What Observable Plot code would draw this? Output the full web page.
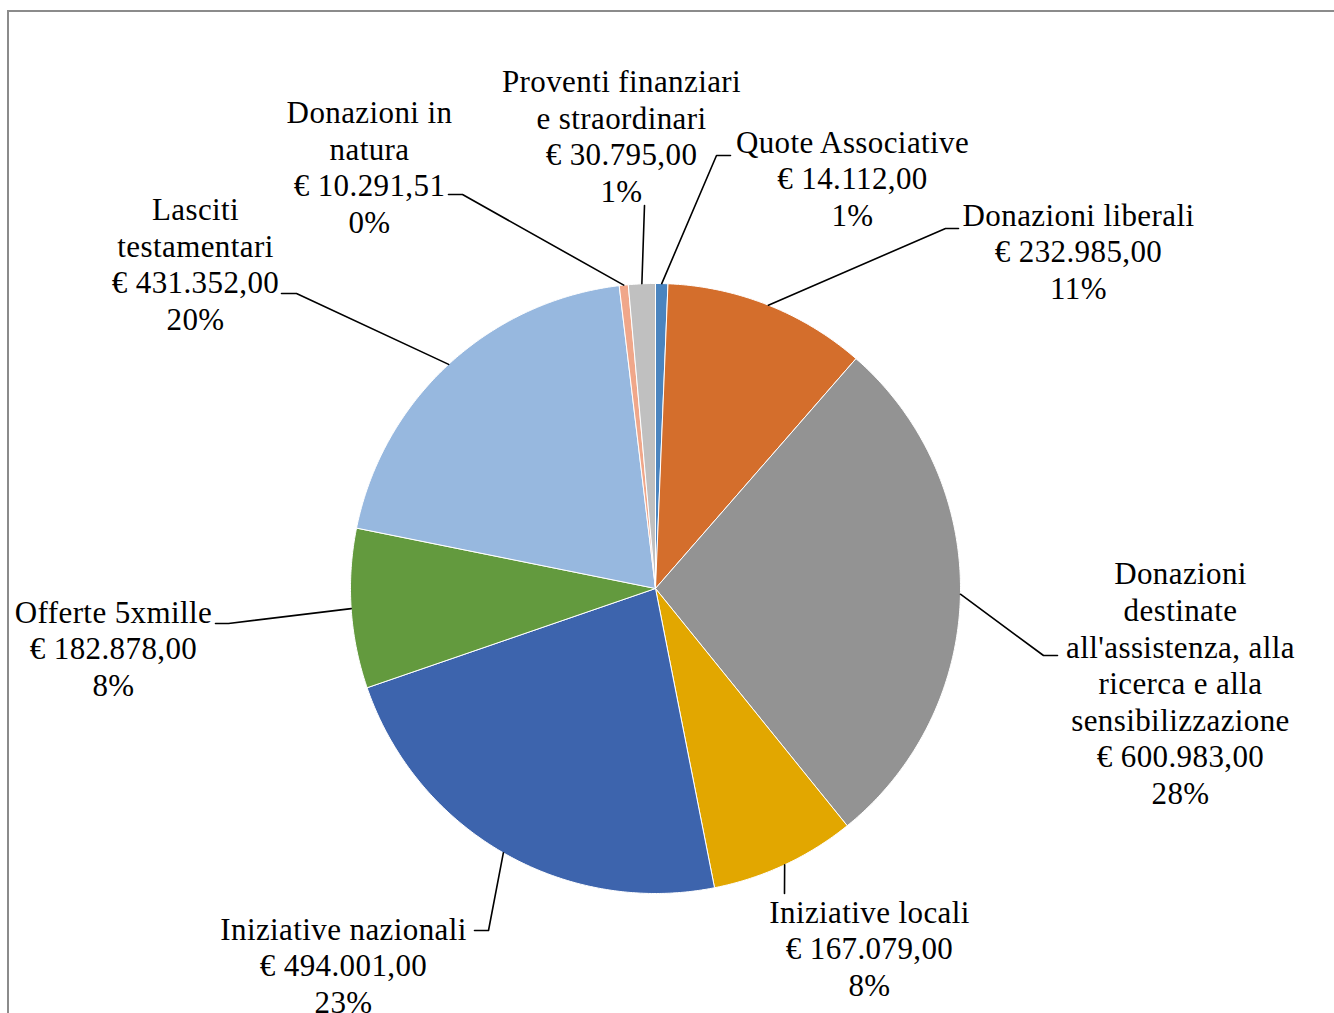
<!DOCTYPE html>
<html><head><meta charset="utf-8">
<script src="https://cdn.jsdelivr.net/npm/d3@7"></script>
<script src="https://cdn.jsdelivr.net/npm/@observablehq/plot@0.6"></script>
<style>
html,body{margin:0;padding:0;background:#fff;overflow:hidden;}
#wrap{position:relative;width:1334px;height:1013px;}
#wrap svg{position:absolute;left:0;top:0;}
#border{position:absolute;left:7px;top:10px;width:1400px;height:1100px;border-top:2.5px solid #8b8b8b;border-left:2.5px solid #8b8b8b;}
</style></head><body><div id="wrap"><div id="border"></div></div>
<script>
// ---- data ----
const categories = [
  "Quote Associative",
  "Donazioni liberali",
  "Donazioni destinate all'assistenza, alla ricerca e alla sensibilizzazione",
  "Iniziative locali",
  "Iniziative nazionali",
  "Offerte 5xmille",
  "Lasciti testamentari",
  "Donazioni in natura",
  "Proventi finanziari e straordinari"
];
const values = [14112, 232985, 600983, 167079, 494001, 182878, 431352, 10291.51, 30795];
// label text as wrapped in the chart
const labelNames = [
  "Quote Associative",
  "Donazioni liberali",
  "Donazioni\ndestinate\nall'assistenza, alla\nricerca e alla\nsensibilizzazione",
  "Iniziative locali",
  "Iniziative nazionali",
  "Offerte 5xmille",
  "Lasciti\ntestamentari",
  "Donazioni in\nnatura",
  "Proventi finanziari\ne straordinari"
];
const colors = ["#4a84bf","#d46e2c","#939393","#e2a700","#3d64ad","#639a3e","#97b8df","#f0a78a","#c0c0c0"];

// ---- layout (pixels) ----
const W = 1334, H = 1013;
const C = {x: 655, y: 588}, R = 305;
// label block centre, and leader path (elbow/end) points near the label
const labelLayout = [
  {cx: 852,  cy: 177,  leader: [[716,155],[730,155]]},
  {cx: 1078, cy: 250,  leader: [[945,228],[958,228]]},
  {cx: 1180, cy: 682,  leader: [[1043,655],[1057,655]]},
  {cx: 869,  cy: 947,  leader: [[784,893]]},
  {cx: 343,  cy: 964,  leader: [[488,930],[474,930]]},
  {cx: 113,  cy: 647,  leader: [[228,623],[215,623]]},
  {cx: 195,  cy: 263,  leader: [[296,293],[281,293]]},
  {cx: 369,  cy: 166,  leader: [[462,194],[448,194]]},
  {cx: 621,  cy: 135,  leader: [[644,205]]}
];

const it = d3.formatLocale({decimal: ",", thousands: ".", grouping: [3], currency: ["€ ", ""]});
const fmt = it.format(",.2f");
const total = d3.sum(values);
const arcs = d3.pie().sort(null).value(d => d)(values);

const slicePts = [];
arcs.forEach((a, i) => {
  const n = Math.max(2, Math.ceil((a.endAngle - a.startAngle) / (Math.PI / 360)));
  slicePts.push({name: categories[i], x: C.x, y: C.y});
  for (let k = 0; k <= n; k++) {
    const t = a.startAngle + (a.endAngle - a.startAngle) * k / n;
    slicePts.push({name: categories[i], x: C.x + R * Math.sin(t), y: C.y - R * Math.cos(t)});
  }
  slicePts.push({name: categories[i], x: C.x, y: C.y});
});

const leaderPts = [];
arcs.forEach((a, i) => {
  const m = (a.startAngle + a.endAngle) / 2;
  leaderPts.push({id: i, x: C.x + R * Math.sin(m), y: C.y - R * Math.cos(m)});
  labelLayout[i].leader.forEach(p => leaderPts.push({id: i, x: p[0], y: p[1]}));
});

const labels = categories.map((c, i) => ({
  x: labelLayout[i].cx,
  y: labelLayout[i].cy,
  text: labelNames[i] + "\n€ " + fmt(values[i]) + "\n" + Math.round(values[i] / total * 100) + "%"
}));

const chart = Plot.plot({
  width: W, height: H,
  margin: 0,
  x: {domain: [0, W], range: [0, W], axis: null},
  y: {domain: [0, H], range: [0, H], axis: null},
  color: {domain: categories, range: colors},
  style: {background: "transparent", letterSpacing: "0.4px"},
  marks: [
    Plot.line(slicePts, {x: "x", y: "y", z: "name", fill: "name", stroke: "white", strokeWidth: 1, strokeLinejoin: "round"}),
    Plot.line(leaderPts, {x: "x", y: "y", z: "id", stroke: "black", strokeWidth: 1.6}),
    Plot.text(labels, {x: "x", y: "y", text: "text", fontSize: 31, lineHeight: 1.18,
      fontFamily: "Liberation Serif", fill: "black", textAnchor: "middle", lineAnchor: "middle"})
  ]
});
document.getElementById("wrap").appendChild(chart);
</script>
</body></html>
